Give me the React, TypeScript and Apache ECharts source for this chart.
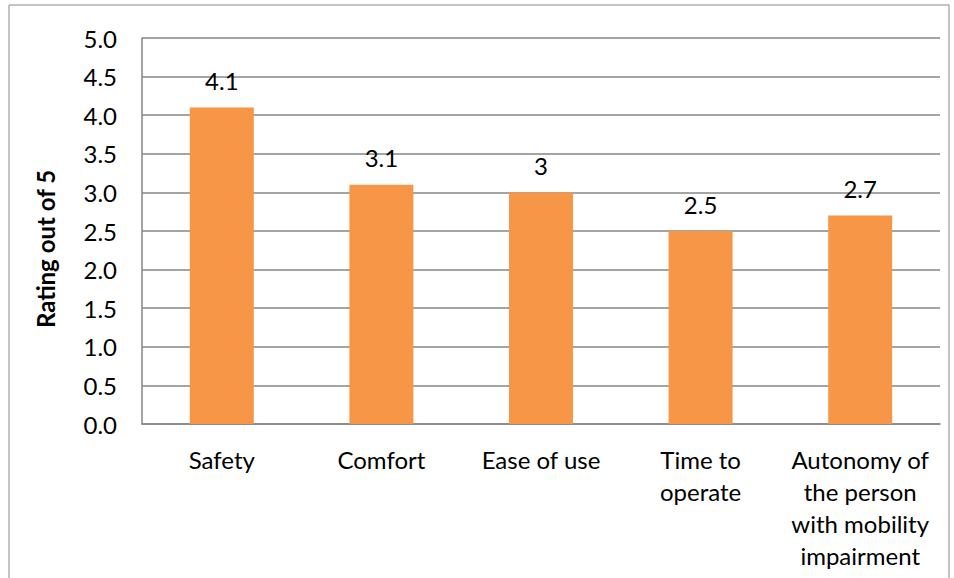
import React, { useEffect, useRef } from "react";
import * as echarts from "echarts";

const categories = [
  "Safety",
  "Comfort",
  "Ease of use",
  "Time to\noperate",
  "Autonomy of\nthe person\nwith mobility\nimpairment",
];
const ratings = [4.1, 3.1, 3, 2.5, 2.7];
const axisTitle = "Rating out of 5";

const FONT = "Lato, 'Liberation Sans', sans-serif";
const GRID_COLOR = "#868686";
const BAR_COLOR = "#F79646";

export default function App() {
  const ref = useRef<HTMLDivElement>(null);

  useEffect(() => {
    if (!ref.current) return;
    const chart = echarts.init(ref.current, undefined, { renderer: "svg" });
    chart.setOption({
      animation: false,
      backgroundColor: "#ffffff",
      grid: { left: 142, right: 14, top: 38, bottom: 154, containLabel: false },
      graphic: [
        {
          type: "rect",
          shape: { x: 9, y: 5, width: 940, height: 600 },
          style: { fill: "none", stroke: "#898989", lineWidth: 1 },
          silent: true,
        },
        {
          type: "text",
          x: 45,
          y: 249,
          rotation: Math.PI / 2,
          style: {
            text: axisTitle,
            fill: "#000",
            font: `bold 24px ${FONT}`,
            align: "center",
            verticalAlign: "middle",
          },
        },
      ],
      xAxis: {
        type: "category",
        data: categories,
        axisLine: { show: true, lineStyle: { color: GRID_COLOR, width: 1.5 } },
        axisTick: { show: false },
        axisLabel: {
          color: "#000",
          fontFamily: FONT,
          fontSize: 24,
          lineHeight: 32,
          margin: 19,
          interval: 0,
        },
      },
      yAxis: {
        type: "value",
        min: 0,
        max: 5,
        interval: 0.5,
        axisLine: { show: true, lineStyle: { color: GRID_COLOR, width: 1.5 } },
        axisTick: { show: false },
        splitLine: { show: true, lineStyle: { color: GRID_COLOR, width: 1.5 } },
        axisLabel: {
          color: "#000",
          fontFamily: FONT,
          fontSize: 24,
          margin: 25,
          formatter: (v: number) => v.toFixed(1),
        },
      },
      series: [
        {
          type: "bar",
          data: ratings,
          barWidth: 64,
          itemStyle: { color: BAR_COLOR },
          label: {
            show: true,
            position: "top",
            distance: 15,
            color: "#000",
            fontFamily: FONT,
            fontSize: 24,
          },
        },
      ],
    });
    return () => chart.dispose();
  }, []);

  return (
    <div
      ref={ref}
      style={{ position: "absolute", left: 0, top: 0, width: 954, height: 578 }}
    />
  );
}
